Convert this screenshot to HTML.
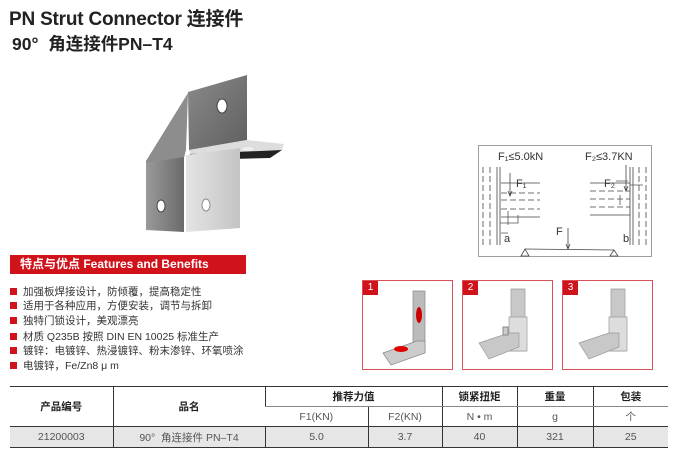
<!DOCTYPE html>
<html><head><meta charset="utf-8"><style>
*{margin:0;padding:0;box-sizing:border-box}
body{width:678px;height:461px;background:#fff;position:relative;overflow:hidden;font-family:"Liberation Sans","Noto Sans CJK SC",sans-serif;color:#222}
.a{position:absolute;white-space:nowrap}
.t1{left:9px;top:4px;font-size:19px;font-weight:bold;letter-spacing:-0.2px}
.t2{left:12px;top:31px;font-size:17.5px;font-weight:bold}
.ban{left:10px;top:255px;width:236px;height:19px;background:#d0121b;color:#fff;font-size:12px;font-weight:bold;line-height:19px;padding-left:10px}
.bl{left:10px;font-size:10.5px;line-height:14px;color:#333}
.bl:before{content:"";display:inline-block;width:7px;height:7px;background:#d0121b;margin-right:6px;vertical-align:0}
.pb{position:absolute;top:280px;width:91px;height:90px;border:1.5px solid #d8505a}
.pb span{position:absolute;left:0;top:0;width:15px;height:14px;background:#d0121b;color:#fff;font-size:10px;text-align:center;line-height:14px}
table{position:absolute;left:10px;top:386px;width:658px;border-collapse:collapse;font-size:10.5px;text-align:center;color:#555}
td{height:20px;border-left:1px solid #333;padding:0}
td:first-child{border-left:none}
.h td{color:#222;font-weight:bold}
tr.r1 td{border-bottom:1px solid #888}
tr.d td{background:#e6e6e6;border-top:1px solid #333;border-bottom:1.5px solid #333;height:21px}
</style></head><body>
<div class="a t1">PN Strut Connector 连接件</div>
<div class="a t2">90°&nbsp; 角连接件PN–T4</div>

<svg class="a" style="left:130px;top:60px" width="170" height="190" viewBox="130 60 170 190">
<defs>
<linearGradient id="g1" x1="0" y1="0" x2="1" y2="1"><stop offset="0" stop-color="#8a8a8a"/><stop offset="1" stop-color="#5f5f5f"/></linearGradient>
<linearGradient id="g2" x1="0" y1="0" x2="1" y2="0"><stop offset="0" stop-color="#9a9a9a"/><stop offset="1" stop-color="#6a6a6a"/></linearGradient>
<linearGradient id="g3" x1="0" y1="0" x2="1" y2="0"><stop offset="0" stop-color="#e4e4e4"/><stop offset="1" stop-color="#c4c4c4"/></linearGradient>
</defs>
<polygon points="188,93 146,161 146,166 184,158 186,150" fill="#8d8d8d"/>
<polygon points="188,92 247,75 247,140 189,150" fill="url(#g1)"/>
<polygon points="247,140 284,144 282,150 190,154 189,150" fill="#ddd"/>
<polygon points="190,154 282,150 270,158 195,160" fill="#222"/>
<polygon points="146,163 184,157 184,232 146,230" fill="url(#g2)"/>
<polygon points="186,155 240,148 240,228 186,232" fill="url(#g3)"/>
<ellipse cx="222" cy="106" rx="5" ry="7" fill="#fff" stroke="#444"/>
<ellipse cx="161" cy="206" rx="4" ry="6" fill="#fff" stroke="#444"/>
<ellipse cx="206" cy="205" rx="4" ry="6" fill="#fff" stroke="#888"/>
<ellipse cx="248" cy="149" rx="6" ry="2" fill="#eee"/>
</svg>

<svg class="a" style="left:478px;top:145px" width="175" height="113" viewBox="0 0 175 113" font-family="Liberation Sans" fill="none" stroke="#444" stroke-width="0.8">
<rect x="0.5" y="0.5" width="173" height="111" stroke="#888"/>
<text x="20" y="15" font-size="11" fill="#333" stroke="none">F₁≤5.0kN</text>
<text x="107" y="15" font-size="11" fill="#333" stroke="none">F₂≤3.7KN</text>
<path d="M5 22V100M12 22V100" stroke-dasharray="6,3"/>
<path d="M19 22V100M22 22V100"/>
<path d="M23 38H62M23 72H62" />
<path d="M23 48H62M23 55H62M23 64H62" stroke-dasharray="6,3"/>
<path d="M32 28V50M30 46L32 51L34 46" />
<text x="38" y="42" font-size="11" fill="#333" stroke="none">F₁</text>
<path d="M22 78H40V70M30 66V80M23 88H30" stroke="#555"/>
<text x="26" y="97" font-size="11" fill="#333" stroke="none">a</text>
<path d="M168 22V100M161 22V100" stroke-dasharray="6,3"/>
<path d="M155 22V100M152 22V100"/>
<path d="M112 38H152M112 70H152"/>
<path d="M112 46H152M112 54H152M112 62H152" stroke-dasharray="6,3"/>
<path d="M148 20V45M146 41L148 46L150 41"/>
<text x="126" y="42" font-size="11" fill="#333" stroke="none">F₂</text>
<path d="M152 40H165M142 50V60M138 36H150" stroke="#555"/>
<text x="145" y="97" font-size="11" fill="#333" stroke="none">b</text>
<path d="M47 104L136 105M90 83V103M88 99L90 104L92 99"/>
<text x="78" y="90" font-size="11" fill="#333" stroke="none">F</text>
<path d="M43 111L47 104L51 111ZM132 111L136 105L140 111Z"/>
</svg>

<div class="a ban">特点与优点 Features and Benefits</div>
<div class="a bl" style="top:285px">加强板焊接设计，防倾覆，提高稳定性</div>
<div class="a bl" style="top:299px">适用于各种应用，方便安装，调节与拆卸</div>
<div class="a bl" style="top:314px">独特门锁设计，美观漂亮</div>
<div class="a bl" style="top:330px">材质 Q235B 按照 DIN EN 10025 标准生产</div>
<div class="a bl" style="top:344px">镀锌：电镀锌、热浸镀锌、粉末渗锌、环氧喷涂</div>
<div class="a bl" style="top:359px">电镀锌，Fe/Zn8 μ m</div>

<div class="pb" style="left:362px"><span>1</span>
<svg width="88" height="87"><g fill="#bbb" stroke="#888" stroke-width="0.7"><path d="M50 10h12v62H50z"/><path d="M20 72l34-12h8v12l-34 12z" fill="#ccc"/></g><ellipse cx="56" cy="34" rx="3" ry="8" fill="#c00"/><ellipse cx="38" cy="68" rx="7" ry="3" fill="#d00"/></svg></div>
<div class="pb" style="left:462px"><span>2</span>
<svg width="88" height="87"><g fill="#c8c8c8" stroke="#999" stroke-width="0.7"><path d="M48 8h14v62H48z"/><path d="M46 36h18v34H46z" fill="#ddd"/><path d="M16 62l30-10h10v14l-30 12z"/></g><rect x="40" y="46" width="5" height="8" fill="#ccc" stroke="#888"/></svg></div>
<div class="pb" style="left:562px"><span>3</span>
<svg width="88" height="87"><g fill="#c8c8c8" stroke="#999" stroke-width="0.7"><path d="M48 8h14v62H48z"/><path d="M46 36h18v34H46z" fill="#ddd"/><path d="M16 62l30-10h10v14l-30 12z"/></g></svg></div>

<table>
<colgroup><col style="width:103px"><col style="width:152px"><col style="width:103px"><col style="width:74px"><col style="width:75px"><col style="width:76px"><col style="width:75px"></colgroup>
<tr class="h r1" style="border-top:1.5px solid #333"><td rowspan="2" style="border-bottom:none">产品编号</td><td rowspan="2" style="border-bottom:none">品名</td><td colspan="2">推荐力值</td><td>锁紧扭矩</td><td>重量</td><td>包装</td></tr>
<tr><td>F1(KN)</td><td>F2(KN)</td><td>N • m</td><td>g</td><td>个</td></tr>
<tr class="d"><td>21200003</td><td>90°&nbsp; 角连接件 PN–T4</td><td>5.0</td><td>3.7</td><td>40</td><td>321</td><td>25</td></tr>
</table>
</body></html>
